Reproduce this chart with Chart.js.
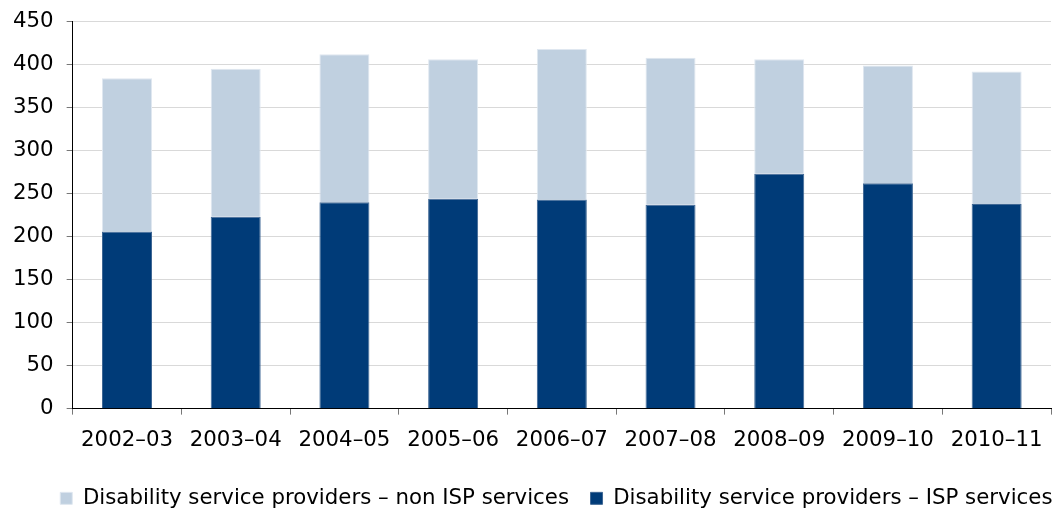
<!DOCTYPE html>
<html>
<head>
<meta charset="utf-8">
<script src="https://cdn.jsdelivr.net/npm/chart.js@4/dist/chart.umd.min.js"></script>
<style>
  body { margin: 0; background: #fff; }
  #wrap { width: 1060px; height: 512px; }
</style>
</head>
<body>
<div id="wrap"><canvas id="providers"></canvas></div>
<script>
const years = ['2002–03', '2003–04', '2004–05', '2005–06', '2006–07', '2007–08', '2008–09', '2009–10', '2010–11'];
const ispServices = [206, 223, 240, 244, 243, 237, 273, 262, 238];
const nonIspServices = [178, 172, 172, 162, 175, 171, 133, 137, 154];
const yTicks = [0, 50, 100, 150, 200, 250, 300, 350, 400, 450];

const ctx = document.getElementById('providers');
const textFont = { family: 'DejaVu Sans', size: 21.3 };

// legend row in the original runs right up to the plot's right edge
const legendShift = {
    id: 'legendShift',
    afterLayout(chart) {
        chart.legend.left += 23;
        chart.legend.right += 23;
    }
};

new Chart(ctx, {
    type: 'bar',
    data: {
        labels: years,
        datasets: [{
                label: 'Disability service providers – ISP services',
                data: ispServices,
                backgroundColor: '#003B78',
                borderColor: '#3f6794',
                borderWidth: 1,
                barPercentage: 0.46,
                categoryPercentage: 1
            }, {
                label: 'Disability service providers – non ISP services',
                data: nonIspServices,
                backgroundColor: '#C0D0E0',
                borderColor: '#dfe7f0',
                borderWidth: 1,
                barPercentage: 0.46,
                categoryPercentage: 1
            }]
    },
    plugins: [legendShift],
    options: {
        responsive: true,
        maintainAspectRatio: false,
        animation: false,
        layout: {
            padding: { left: 0, right: 9, top: -1, bottom: -7 }
        },
        plugins: {
            tooltip: { enabled: false },
            legend: {
                position: 'bottom',
                align: 'end',
                reverse: true,
                labels: {
                    color: '#000',
                    font: textFont,
                    boxWidth: 12,
                    boxHeight: 12,
                    padding: 21.5
                }
            }
        },
        scales: {
            x: {
                stacked: true,
                border: { color: '#000', width: 1 },
                grid: {
                    offset: true,
                    drawOnChartArea: false,
                    drawTicks: true,
                    tickLength: 6,
                    tickColor: '#777'
                },
                ticks: {
                    color: '#000',
                    font: textFont,
                    padding: 13,
                    maxRotation: 0
                }
            },
            y: {
                stacked: true,
                min: 0,
                max: 450,
                afterBuildTicks: axis => { axis.ticks = yTicks.map(v => ({ value: v })); },
                border: { color: '#000', width: 1 },
                grid: {
                    color: '#D9D9D9',
                    tickColor: '#777',
                    tickLength: 6
                },
                ticks: {
                    color: '#000',
                    font: { family: 'DejaVu Sans', size: 21.3, lineHeight: 0.8 },
                    padding: 13
                }
            }
        }
    }
});
</script>
</body>
</html>
